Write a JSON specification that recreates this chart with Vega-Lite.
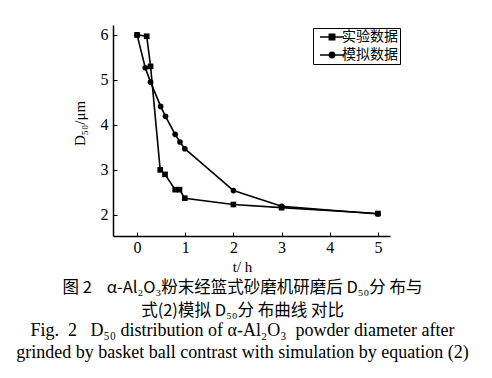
{
  "$schema": "https://vega.github.io/schema/vega-lite/v6.json",
  "width": 277,
  "height": 211,
  "autosize": "none",
  "padding": {"left": 113, "top": 25, "right": 102, "bottom": 142},
  "background": "white",
  "config": {
    "view": {"stroke": null},
    "axis": {
      "grid": false,
      "domainColor": "black",
      "domainWidth": 1.5,
      "tickColor": "black",
      "tickWidth": 1,
      "tickSize": -4,
      "labelFont": "Liberation Serif",
      "labelFontSize": 16,
      "labelColor": "black",
      "titleFont": "Liberation Serif",
      "titleFontSize": 15,
      "titleFontWeight": "normal",
      "titleColor": "black"
    }
  },
  "title": {
    "text": ["图 2\u00a0\u00a0\u00a0\u00a0α-Al₂O₃粉末经篮式砂磨机研磨后 D₅₀分\u00a0布与", "式(2)模拟 D₅₀分\u00a0布曲线\u00a0对比"],
    "subtitle": ["Fig.\u00a0\u00a02\u00a0\u00a0\u00a0D₅₀ distribution of α-Al₂O₃\u00a0\u00a0powder diameter after", "grinded by basket ball contrast with simulation by equation (2)"],
    "orient": "bottom",
    "anchor": "middle",
    "dx": -9,
    "offset": 6,
    "font": "Noto Sans CJK SC",
    "fontSize": 16.5,
    "fontWeight": "normal",
    "lineHeight": 23,
    "color": "black",
    "subtitleFont": "Liberation Serif",
    "subtitleFontSize": 18,
    "subtitleLineHeight": 22,
    "subtitleColor": "black",
    "subtitlePadding": 2
  },
  "data": {
    "values": [
      {"t": 0, "d50": 6.0, "series": "实验数据"},
      {"t": 0.2, "d50": 5.97, "series": "实验数据"},
      {"t": 0.28, "d50": 5.3, "series": "实验数据"},
      {"t": 0.48, "d50": 3.0, "series": "实验数据"},
      {"t": 0.58, "d50": 2.9, "series": "实验数据"},
      {"t": 0.79, "d50": 2.56, "series": "实验数据"},
      {"t": 0.88, "d50": 2.56, "series": "实验数据"},
      {"t": 0.99, "d50": 2.37, "series": "实验数据"},
      {"t": 2, "d50": 2.23, "series": "实验数据"},
      {"t": 3, "d50": 2.16, "series": "实验数据"},
      {"t": 5, "d50": 2.03, "series": "实验数据"},
      {"t": 0, "d50": 6.0, "series": "模拟数据"},
      {"t": 0.17, "d50": 5.27, "series": "模拟数据"},
      {"t": 0.28, "d50": 4.95, "series": "模拟数据"},
      {"t": 0.49, "d50": 4.41, "series": "模拟数据"},
      {"t": 0.59, "d50": 4.19, "series": "模拟数据"},
      {"t": 0.79, "d50": 3.79, "series": "模拟数据"},
      {"t": 0.89, "d50": 3.62, "series": "模拟数据"},
      {"t": 0.99, "d50": 3.47, "series": "模拟数据"},
      {"t": 2, "d50": 2.54, "series": "模拟数据"},
      {"t": 3, "d50": 2.19, "series": "模拟数据"},
      {"t": 5, "d50": 2.02, "series": "模拟数据"}
    ]
  },
  "encoding": {
    "x": {
      "field": "t",
      "type": "quantitative",
      "scale": {"domain": [-0.5, 5.25], "nice": false, "zero": false},
      "axis": {"values": [0, 1, 2, 3, 4, 5], "title": "t/ h", "titlePadding": 4, "labelPadding": 7, "titleX": 129}
    },
    "y": {
      "field": "d50",
      "type": "quantitative",
      "scale": {"domain": [1.53, 6.22], "nice": false, "zero": false},
      "axis": {"values": [2, 3, 4, 5, 6], "title": "D₅₀/μm", "labelPadding": 9, "titlePadding": 13, "titleY": 98}
    }
  },
  "layer": [
    {
      "mark": {"type": "line", "color": "black", "strokeWidth": 1.6},
      "encoding": {"detail": {"field": "series"}}
    },
    {
      "mark": {"type": "point", "filled": true, "fill": "black", "stroke": "black", "strokeWidth": 1.5, "opacity": 0},
      "encoding": {
        "shape": {
          "field": "series",
          "type": "nominal",
          "scale": {"domain": ["实验数据", "模拟数据"], "range": ["M-4,0H4M-0.9,-0.9H0.9V0.9H-0.9Z", "M-4,0H4M-0.9,0A0.9,0.9,0,1,1,0.9,0A0.9,0.9,0,1,1,-0.9,0Z"]},
          "legend": {
            "title": null,
            "orient": "none",
            "legendX": 200,
            "legendY": 3,
            "strokeColor": "black",
            "padding": 2,
            "labelFont": "Noto Sans CJK SC",
            "labelFontSize": 14,
            "labelColor": "black",
            "symbolSize": 36,
            "symbolOffset": 10,
            "labelOffset": 3,
            "rowPadding": 4,
            "encode": {
              "symbols": {
                "stroke": {"value": "black"},
                "strokeWidth": {"value": 1.5},
                "fill": {"value": "black"},
                "opacity": {"value": 1}
              }
            }
          }
        },
        "size": {"value": 32}
      }
    },
    {
      "transform": [{"filter": "datum.series == '实验数据'"}],
      "mark": {"type": "point", "filled": true, "color": "black", "opacity": 1, "shape": "square", "size": 32}
    },
    {
      "transform": [{"filter": "datum.series == '模拟数据'"}],
      "mark": {"type": "point", "filled": true, "color": "black", "opacity": 1, "shape": "circle", "size": 32}
    }
  ]
}
